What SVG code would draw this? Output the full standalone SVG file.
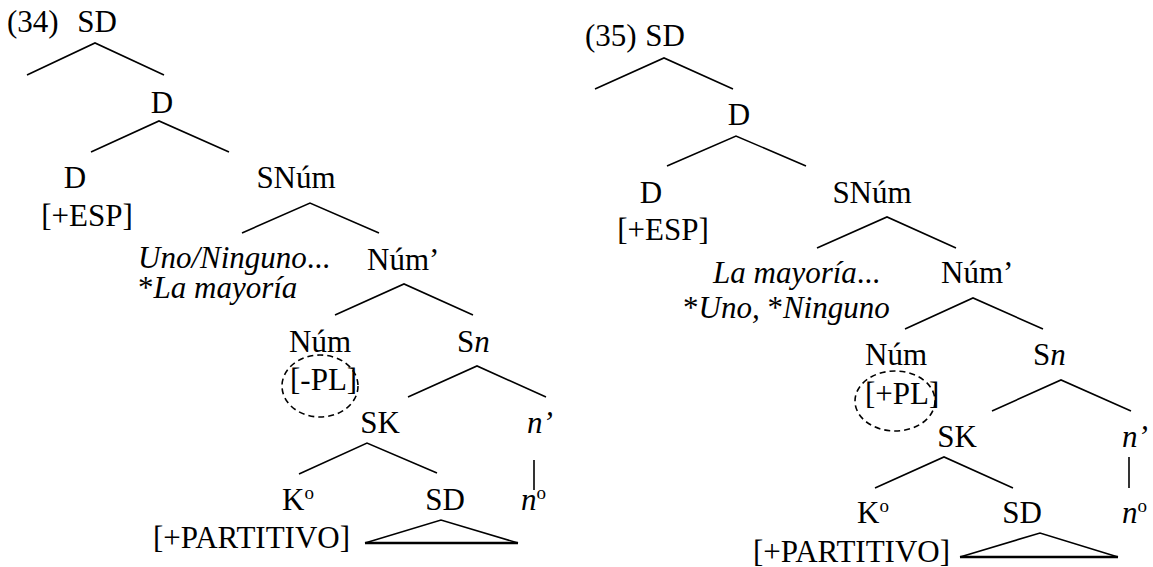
<svg xmlns="http://www.w3.org/2000/svg" width="1153" height="567" viewBox="0 0 1153 567" font-family="Liberation Serif, Tinos, Times New Roman, serif">
<rect width="1153" height="567" fill="#fff"/>
<g id="connectors" stroke="#000" stroke-width="1.6" fill="none">
<polyline points="27,75 95,43 164,75"/>
<polyline points="91,152 159,121 229,152"/>
<polyline points="242,233 310,203 379,233"/>
<polyline points="335,315 404,284 473,315"/>
<polyline points="408,397 477,366 546,397"/>
<polyline points="299,474 367,443 437,473"/>
<line x1="534" y1="460" x2="534" y2="490"/>
<polyline points="365,543 441,520 518,543"/>
<line stroke-width="2.6" x1="365" y1="543" x2="518" y2="543"/>
<polyline points="595,89 664,58 733,89"/>
<polyline points="667,166 736,136 806,166"/>
<polyline points="817,248 887,217 956,248"/>
<polyline points="905,329 973,298 1043,329"/>
<polyline points="992,411 1061,380 1131,411"/>
<polyline points="875,488 944,457 1013,488"/>
<line x1="1129" y1="457" x2="1129" y2="488"/>
<polyline points="960,557 1040,533 1118,557"/>
<line stroke-width="2.6" x1="960" y1="557" x2="1118" y2="557"/>
</g>
<g id="tree34">
<g id="n34-label"><text x="7" y="32" font-size="31" font-family="Liberation Serif" style="font-family:'Liberation Serif'">(34)</text></g>
<g id="n34-SD"><text x="97" y="32" font-size="31" font-family="Liberation Serif" style="font-family:'Liberation Serif'" text-anchor="middle">SD</text></g>
<g id="n34-D1"><text x="162" y="113" font-size="31" font-family="Liberation Serif" style="font-family:'Liberation Serif'" text-anchor="middle">D</text></g>
<g id="n34-D2"><text x="75" y="188" font-size="31" font-family="Liberation Serif" style="font-family:'Liberation Serif'" text-anchor="middle">D</text><text x="87" y="226" font-size="31" font-family="Liberation Serif" style="font-family:'Liberation Serif'" text-anchor="middle">[+ESP]</text></g>
<g id="n34-SNum"><text x="296" y="188" font-size="31" font-family="Liberation Serif" style="font-family:'Liberation Serif'" text-anchor="middle">SNúm</text></g>
<g id="n34-spec"><text x="138" y="268" font-size="31" font-family="Liberation Serif" style="font-family:'Liberation Serif'" font-style="italic">Uno/Ninguno<tspan font-style="normal">...</tspan></text><text x="138" y="298" font-size="31" font-family="Liberation Serif" style="font-family:'Liberation Serif'">*<tspan font-style="italic">La mayoría</tspan></text></g>
<g id="n34-Numbar"><text x="367" y="270" font-size="31" font-family="Liberation Serif" style="font-family:'Liberation Serif'">Núm’</text></g>
<g id="n34-Num"><text x="320" y="352" font-size="31" font-family="Liberation Serif" style="font-family:'Liberation Serif'" text-anchor="middle">Núm</text><text x="290" y="390" font-size="31" font-family="Liberation Serif" style="font-family:'Liberation Serif'">[-PL]</text><ellipse cx="320" cy="386" rx="38" ry="31" fill="none" stroke="#000" stroke-width="1.6" stroke-dasharray="6 4"/></g>
<g id="n34-Sn"><text x="457" y="352" font-size="31" font-family="Liberation Serif" style="font-family:'Liberation Serif'">S<tspan font-style="italic">n</tspan></text></g>
<g id="n34-SK"><text x="380" y="433" font-size="31" font-family="Liberation Serif" style="font-family:'Liberation Serif'" text-anchor="middle">SK</text></g>
<g id="n34-nbar"><text x="527" y="433" font-size="31" font-family="Liberation Serif" style="font-family:'Liberation Serif'" font-style="italic">n’</text></g>
<g id="n34-K"><text x="282" y="510" font-size="31" font-family="Liberation Serif" style="font-family:'Liberation Serif'">K<tspan font-size="19" dy="-11">o</tspan></text><text x="153" y="548" font-size="31" font-family="Liberation Serif" style="font-family:'Liberation Serif'">[+PARTITIVO]</text></g>
<g id="n34-SD2"><text x="445" y="510" font-size="31" font-family="Liberation Serif" style="font-family:'Liberation Serif'" text-anchor="middle">SD</text></g>
<g id="n34-n0"><text x="521" y="510" font-size="31" font-family="Liberation Serif" style="font-family:'Liberation Serif'"><tspan font-style="italic">n</tspan><tspan font-size="19" dy="-11">o</tspan></text></g>
</g>
<g id="tree35">
<g id="n35-label"><text x="585" y="46" font-size="31" font-family="Liberation Serif" style="font-family:'Liberation Serif'">(35)</text></g>
<g id="n35-SD"><text x="665" y="46" font-size="31" font-family="Liberation Serif" style="font-family:'Liberation Serif'" text-anchor="middle">SD</text></g>
<g id="n35-D1"><text x="739" y="125" font-size="31" font-family="Liberation Serif" style="font-family:'Liberation Serif'" text-anchor="middle">D</text></g>
<g id="n35-D2"><text x="651" y="203" font-size="31" font-family="Liberation Serif" style="font-family:'Liberation Serif'" text-anchor="middle">D</text><text x="663" y="240" font-size="31" font-family="Liberation Serif" style="font-family:'Liberation Serif'" text-anchor="middle">[+ESP]</text></g>
<g id="n35-SNum"><text x="872" y="203" font-size="31" font-family="Liberation Serif" style="font-family:'Liberation Serif'" text-anchor="middle">SNúm</text></g>
<g id="n35-spec"><text x="713" y="283" font-size="31" font-family="Liberation Serif" style="font-family:'Liberation Serif'" font-style="italic">La mayoría<tspan font-style="normal">...</tspan></text><text x="683" y="318" font-size="31" font-family="Liberation Serif" style="font-family:'Liberation Serif'">*<tspan font-style="italic">Uno,</tspan> *<tspan font-style="italic">Ninguno</tspan></text></g>
<g id="n35-Numbar"><text x="941" y="283" font-size="31" font-family="Liberation Serif" style="font-family:'Liberation Serif'">Núm’</text></g>
<g id="n35-Num"><text x="896" y="365" font-size="31" font-family="Liberation Serif" style="font-family:'Liberation Serif'" text-anchor="middle">Núm</text><text x="865" y="404" font-size="31" font-family="Liberation Serif" style="font-family:'Liberation Serif'">[+PL]</text><ellipse cx="895" cy="401" rx="40" ry="30" fill="none" stroke="#000" stroke-width="1.6" stroke-dasharray="6 4"/></g>
<g id="n35-Sn"><text x="1033" y="365" font-size="31" font-family="Liberation Serif" style="font-family:'Liberation Serif'">S<tspan font-style="italic">n</tspan></text></g>
<g id="n35-SK"><text x="957" y="447" font-size="31" font-family="Liberation Serif" style="font-family:'Liberation Serif'" text-anchor="middle">SK</text></g>
<g id="n35-nbar"><text x="1122" y="447" font-size="31" font-family="Liberation Serif" style="font-family:'Liberation Serif'" font-style="italic">n’</text></g>
<g id="n35-K"><text x="857" y="523" font-size="31" font-family="Liberation Serif" style="font-family:'Liberation Serif'">K<tspan font-size="19" dy="-11">o</tspan></text><text x="753" y="562" font-size="31" font-family="Liberation Serif" style="font-family:'Liberation Serif'">[+PARTITIVO]</text></g>
<g id="n35-SD2"><text x="1022" y="523" font-size="31" font-family="Liberation Serif" style="font-family:'Liberation Serif'" text-anchor="middle">SD</text></g>
<g id="n35-n0"><text x="1122" y="523" font-size="31" font-family="Liberation Serif" style="font-family:'Liberation Serif'"><tspan font-style="italic">n</tspan><tspan font-size="19" dy="-11">o</tspan></text></g>
</g>
</svg>
